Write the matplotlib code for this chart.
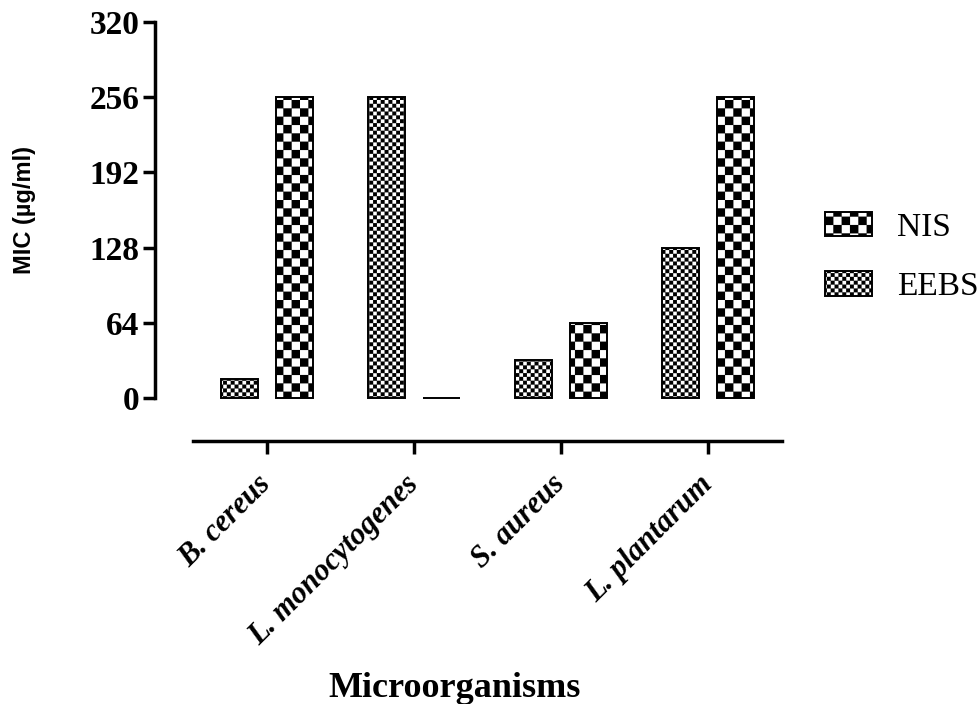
import numpy as np
import matplotlib
matplotlib.use('Agg')
import matplotlib.pyplot as plt
import matplotlib.hatch as mhatch
from matplotlib.path import Path

# data
organisms = ['B. cereus', 'L. monocytogenes', 'S. aureus', 'L. plantarum']
eebs = [16, 256, 32, 128]
nis = [256, 0, 64, 256]
yticks = [0, 64, 128, 192, 256, 320]


# checkerboard "hatch": 'x' -> coarse squares, '.' -> fine squares
class Checker(mhatch.HatchPatternBase):
    def __init__(self, hatch, density):
        self.n = 12 * hatch.count('x') + 26 * hatch.count('.')
        self.num_vertices = 5 * (self.n * self.n // 2)

    def set_vertices_and_codes(self, vertices, codes):
        n = self.n
        s = 1.0 / n
        sq = np.array([[0, 0], [s, 0], [s, s], [0, s], [0, 0]])
        parts = [sq + [i * s, j * s] for i in range(n) for j in range(n)
                 if (i + j) % 2 == 0]
        vertices[:] = np.concatenate(parts)
        codes[:] = np.tile([Path.MOVETO, Path.LINETO, Path.LINETO,
                            Path.LINETO, Path.CLOSEPOLY], len(parts))


mhatch._hatch_types = [Checker]
plt.rcParams['hatch.linewidth'] = 0.1
plt.rcParams['hatch.color'] = 'black'

serif = 'Liberation Serif'

fig = plt.figure(figsize=(9.79, 7.04), dpi=100)
ax = fig.add_axes([155 / 979, 1 - 398 / 704, 627 / 979, 376 / 704])

x = np.arange(len(organisms))
w = 0.25
b_eebs = ax.bar(x - 0.187, eebs, w, color='white', edgecolor='black',
                linewidth=1.4, hatch='.', label='EEBS', clip_on=False)
b_nis = ax.bar(x + 0.187, nis, w, color='white', edgecolor='black',
               linewidth=1.4, hatch='x', label='NIS', clip_on=False)

ax.set_xlim(-0.762, 3.503)
ax.set_ylim(0, 320)

for s in ['top', 'right']:
    ax.spines[s].set_visible(False)
ax.spines['left'].set_linewidth(2.5)
ax.spines['bottom'].set_linewidth(2.5)
ax.spines['bottom'].set_position(('outward', 31))
ax.spines['bottom'].set_bounds(-0.503, 3.503)

ax.set_yticks(yticks)
ax.set_yticklabels([str(t) for t in yticks], fontfamily=serif,
                   fontweight='bold', fontsize=24)
ax.set_xticks(x)
ax.set_xticklabels(organisms, fontfamily=serif, fontweight='bold',
                   fontstyle='italic', fontsize=22, rotation=45, ha='right',
                   va='center', rotation_mode='anchor')
ax.tick_params(axis='both', length=9, width=2.5, direction='out')
ax.tick_params(axis='y', pad=2)
ax.tick_params(axis='x', pad=19)

ax.set_ylabel('MIC (µg/ml)', fontfamily='Liberation Sans', fontweight='bold',
              fontsize=17)
ax.yaxis.set_label_coords(-0.19, 0.5)
ax.set_xlabel('Microorganisms', fontfamily=serif, fontweight='bold',
              fontsize=26)
ax.xaxis.set_label_coords(0.477, -0.73)

ax.legend(handles=[b_nis, b_eebs], labels=['NIS', 'EEBS'], loc='upper left',
          bbox_to_anchor=(825 / 979, 1 - 212 / 704),
          bbox_transform=fig.transFigure, frameon=False, borderpad=0,
          borderaxespad=0, handlelength=1.41, handleheight=0.75,
          handletextpad=0.75, labelspacing=0.86,
          prop={'family': serif, 'size': 24})

fig.savefig('out.png', dpi=100)
